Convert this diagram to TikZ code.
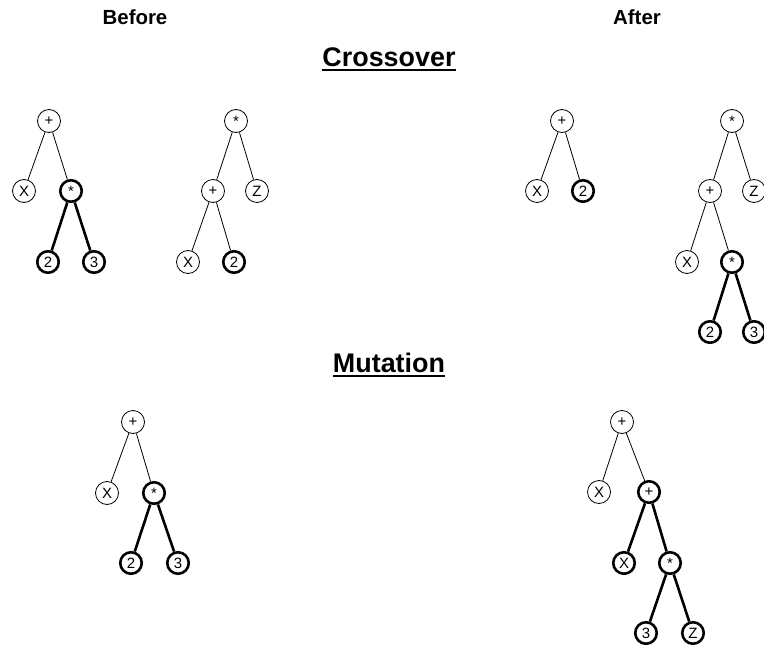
\documentclass[tikz,border=0pt]{standalone}
\usepackage{fontspec}
\setmainfont{Liberation Sans}
\begin{document}
\begin{tikzpicture}[x=1bp,y=-1bp,
  nd/.style={circle,draw,line width=0.8bp,minimum size=23bp,inner sep=0pt,font=\fontsize{15}{15}\selectfont},
  bnd/.style={nd,line width=2.6bp,minimum size=21.5bp},
  ed/.style={line width=0.8bp},
  bed/.style={line width=2.6bp},
  ul/.style={line width=2.2bp},
  head/.style={font=\bfseries\fontsize{20.5}{20.5}\selectfont},
  ttl/.style={font=\bfseries\fontsize{27}{27}\selectfont}]
\useasboundingbox (0,0) rectangle (764,646);
\node[head] (before) at (135,17) {Before};
\node[head] (after) at (637,17) {After};
\node[ttl,inner sep=0pt] (cross) at (389,57) {Crossover};
\node[ttl,inner sep=0pt] (mut) at (389,363) {Mutation};
\draw[ul] ([yshift=-3.5bp]cross.base west) -- ([yshift=-3.5bp]cross.base east);
\draw[ul] ([yshift=-3.5bp]mut.base west) -- ([yshift=-3.5bp]mut.base east);
% tree 1
\node[nd] (a1) at (49,121) {+};
\node[nd] (a2) at (24,191) {X};
\node[bnd] (a3) at (71,191) {*};
\node[bnd] (a4) at (48,262) {2};
\node[bnd] (a5) at (94,262) {3};
\draw[ed] (a1) -- (a2); \draw[ed] (a1) -- (a3);
\draw[bed] (a3) -- (a4); \draw[bed] (a3) -- (a5);
% tree 2
\node[nd] (b1) at (236,121) {*};
\node[nd] (b2) at (213,191) {+};
\node[nd] (b3) at (257,191) {Z};
\node[nd] (b4) at (188,262) {X};
\node[bnd] (b5) at (234,262) {2};
\draw[ed] (b1) -- (b2); \draw[ed] (b1) -- (b3);
\draw[ed] (b2) -- (b4); \draw[ed] (b2) -- (b5);
% tree 3
\node[nd] (c1) at (562,121) {+};
\node[nd] (c2) at (537,191) {X};
\node[bnd] (c3) at (583,191) {2};
\draw[ed] (c1) -- (c2); \draw[ed] (c1) -- (c3);
% tree 4
\node[nd] (d1) at (732,121) {*};
\node[nd] (d2) at (710,191) {+};
\node[nd] (d3) at (754,191) {Z};
\node[nd] (d4) at (687,262) {X};
\node[bnd] (d5) at (732,262) {*};
\node[bnd] (d6) at (710,332) {2};
\node[bnd] (d7) at (754,332) {3};
\draw[ed] (d1) -- (d2); \draw[ed] (d1) -- (d3);
\draw[ed] (d2) -- (d4); \draw[ed] (d2) -- (d5);
\draw[bed] (d5) -- (d6); \draw[bed] (d5) -- (d7);
% mutation before
\node[nd] (e1) at (133,422) {+};
\node[nd] (e2) at (107,493) {X};
\node[bnd] (e3) at (154,493) {*};
\node[bnd] (e4) at (131,563) {2};
\node[bnd] (e5) at (178,563) {3};
\draw[ed] (e1) -- (e2); \draw[ed] (e1) -- (e3);
\draw[bed] (e3) -- (e4); \draw[bed] (e3) -- (e5);
% mutation after
\node[nd] (f1) at (622,422) {+};
\node[nd] (f2) at (599,492) {X};
\node[bnd] (f3) at (649,492) {+};
\node[bnd] (f4) at (624,563) {X};
\node[bnd] (f5) at (670,563) {*};
\node[bnd] (f6) at (646,633) {3};
\node[bnd] (f7) at (693,633) {Z};
\draw[ed] (f1) -- (f2); \draw[ed] (f1) -- (f3);
\draw[bed] (f3) -- (f4); \draw[bed] (f3) -- (f5);
\draw[bed] (f5) -- (f6); \draw[bed] (f5) -- (f7);
\end{tikzpicture}
\end{document}
